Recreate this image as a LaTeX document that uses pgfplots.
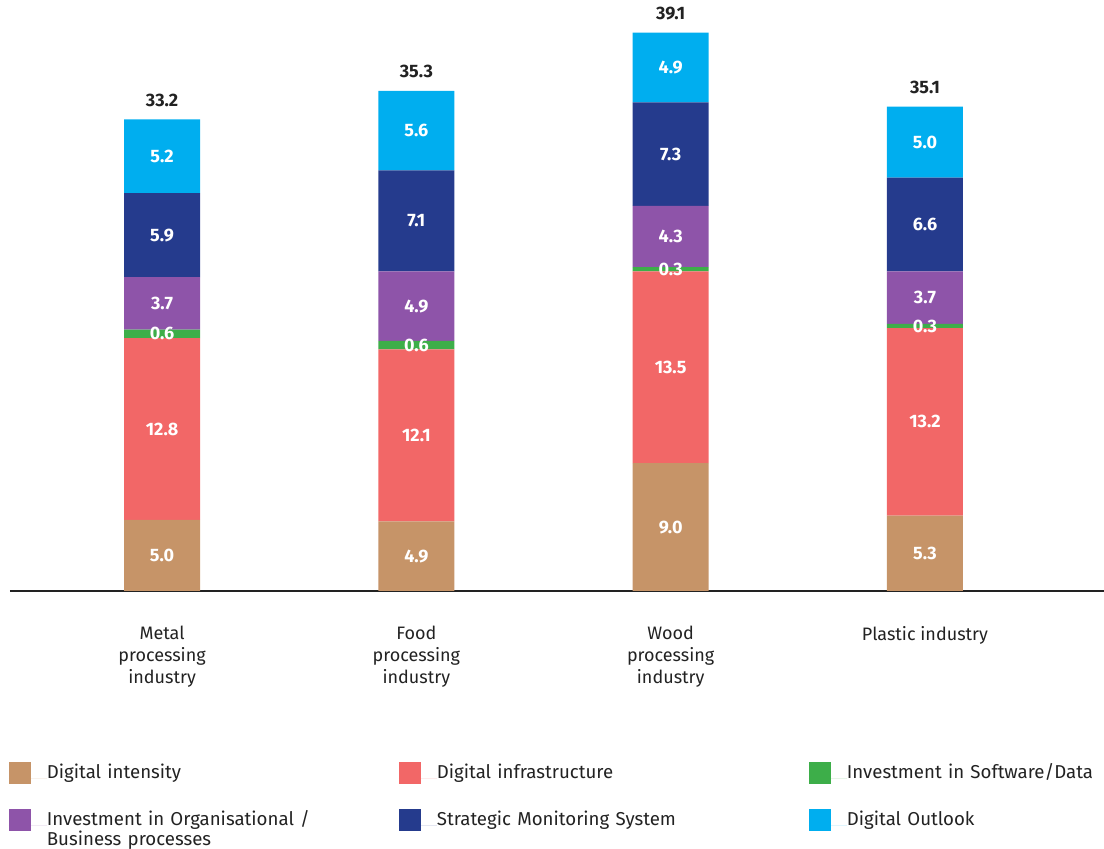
\documentclass[border=0pt]{standalone}
\usepackage{fontspec}
\setmainfont{Fira Sans}
\usepackage{pgfplots}
\usepackage{pgfplotstable}
\pgfplotsset{compat=1.18}
\definecolor{cdi}{HTML}{C69468}
\definecolor{cinf}{HTML}{F26767}
\definecolor{csw}{HTML}{3DAE49}
\definecolor{corg}{HTML}{8E54A9}
\definecolor{csms}{HTML}{253B8D}
\definecolor{cout}{HTML}{00AEEF}
\definecolor{txt}{HTML}{222222}
\pgfplotstableread{
x di inf sw org sms out total
0 5.0 12.8 0.6 3.7 5.9 5.2 33.2
1 4.9 12.1 0.6 4.9 7.1 5.6 35.3
2 9.0 13.5 0.3 4.3 7.3 4.9 39.1
3 5.3 13.2 0.3 3.7 6.6 5.0 35.1
}\datatable
\pgfplotsset{
  frame/.style={at={(7.5pt,193.5pt)}, anchor=south west,
    scale only axis, width=820.5pt, height=443.25pt,
    xmin=-0.598, xmax=3.704, ymin=0, ymax=41.6, clip=false},
  seg/.style={fill=#1, draw=none, nodes near coords, point meta=explicit symbolic,
    nodes near coords align=center,
    every node near coord/.style={font=\bfseries\fontsize{13.5}{15}\selectfont, text=white, anchor=center}},
}
\begin{document}
\begin{tikzpicture}
\useasboundingbox (0,0) rectangle (828pt,636.75pt);
\begin{axis}[
  frame,
  ybar stacked, bar width=57pt,
  axis y line=none, axis x line*=bottom,
  x axis line style={color=txt, line width=0.9pt, -},
  xtick={0,1,2,3},
  xticklabels={{Metal\\processing\\industry},{Food\\processing\\industry},{Wood\\processing\\industry},{Plastic industry}},
  xticklabel style={align=center, anchor=north, yshift=-23pt, font=\fontsize{13.5}{16.5}\selectfont, text=txt},
  major tick length=0pt,
  legend columns=3,
  legend image code/.code={\fill[#1, draw=none] (0pt,-4pt) rectangle (16.5pt,12.5pt); \path (0pt,0pt) -- (28.5pt,0pt);},
  legend style={at={(-0.001,-0.2886)}, anchor=north west, draw=none, fill=none, inner sep=0pt, outer sep=0pt,
    column sep=0pt, row sep=18.8pt, font=\fontsize{14}{15.4}\selectfont, text=txt,
    nodes={inner sep=0pt, outer sep=0pt},
    cells={anchor=base west, align=left},
    /tikz/column 2/.style={text width=264pt},
    /tikz/column 4/.style={text width=279pt},
    /tikz/column 6/.style={text width=264pt}},
]
\addplot[seg=cdi] table[x=x, y=di, meta=di] \datatable;
\addplot[seg=cinf] table[x=x, y=inf, meta=inf] \datatable;
\addplot[seg=csw] table[x=x, y=sw, meta=sw] \datatable;
\addplot[seg=corg] table[x=x, y=org, meta=org] \datatable;
\addplot[seg=csms] table[x=x, y=sms, meta=sms] \datatable;
\addplot[seg=cout] table[x=x, y=out, meta=out] \datatable;
\legend{Digital intensity, Digital infrastructure, Investment in Software/Data, {Investment in Organisational /\\Business processes}, Strategic Monitoring System, Digital Outlook}
\end{axis}
\begin{axis}[frame, hide axis]
\addplot[draw=none, mark=none, nodes near coords, point meta=explicit symbolic,
  every node near coord/.style={font=\bfseries\fontsize{13.5}{15}\selectfont, text=txt, anchor=south, yshift=6pt}]
  table[x=x, y expr=\thisrow{di}+\thisrow{inf}+\thisrow{sw}+\thisrow{org}+\thisrow{sms}+\thisrow{out}, meta=total] \datatable;
\end{axis}
\end{tikzpicture}
\end{document}
